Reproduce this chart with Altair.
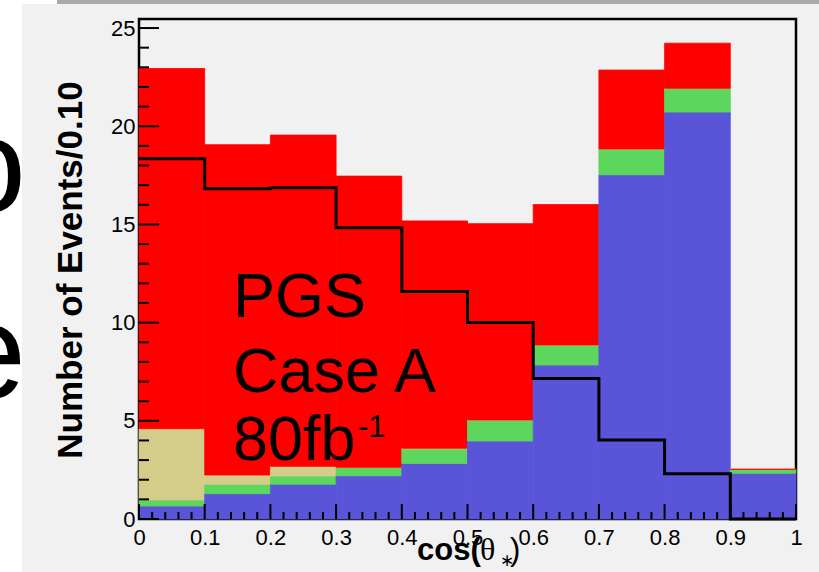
import altair as alt
import pandas as pd

# Bin edges of cos(theta*) histogram
bin_lo = [0.0, 0.1, 0.2, 0.3, 0.4, 0.5, 0.6, 0.7, 0.8, 0.9]
bin_hi = [0.1, 0.2, 0.3, 0.4, 0.5, 0.6, 0.7, 0.8, 0.9, 1.0]

# Per-bin contributions, stacked bottom to top
bkg_blue = [0.66, 1.29, 1.77, 2.20, 2.83, 3.97, 7.84, 17.53, 20.72, 2.33]
bkg_green = [0.31, 0.48, 0.42, 0.43, 0.74, 1.07, 1.02, 1.31, 1.21, 0.20]
bkg_khaki = [3.63, 0.47, 0.49, 0.00, 0.03, 0.00, 0.00, 0.00, 0.00, 0.00]
signal = [18.34, 16.82, 16.87, 14.83, 11.58, 10.00, 7.15, 4.02, 2.30, 0.00]

# Axis tick values
x_major = [0, 0.1, 0.2, 0.3, 0.4, 0.5, 0.6, 0.7, 0.8, 0.9, 1]
y_major = [0, 5, 10, 15, 20, 25]
x_minor = [round(i * 0.02, 2) for i in range(51) if i % 5]
y_minor = [i for i in range(26) if i % 5]

W, H = 657, 500
Y_MAX = 25.46
FONT = "Liberation Sans"

comp_names = ["bkg_blue", "bkg_green", "bkg_khaki", "signal"]
comp_vals = [bkg_blue, bkg_green, bkg_khaki, signal]
comp_colors = ["#5a55d8", "#5cd65c", "#d4cd8a", "#ff0000"]

rows = []
for i in range(len(bin_lo)):
    base = 0.0
    for name, vals in zip(comp_names, comp_vals):
        rows.append({"lo": bin_lo[i], "hi": bin_hi[i], "comp": name,
                     "y0": base, "y1": base + vals[i]})
        base += vals[i]
stack_df = pd.DataFrame(rows)

line_df = pd.DataFrame({"x": bin_lo + [1.0], "y": signal + [signal[-1]]})

xs = alt.Scale(domain=[0, 1], nice=False, zero=False)
ys = alt.Scale(domain=[0, Y_MAX], nice=False)

x_axis = alt.Axis(values=x_major, format="~g", ticks=False, domain=False, grid=False,
                  labelFont=FONT, labelFontSize=22, labelColor="black",
                  labelPadding=8, title=None, labelFlush=False)
y_axis = alt.Axis(values=y_major, ticks=False, domain=False, grid=False,
                  labelFont=FONT, labelFontSize=22, labelColor="black",
                  labelPadding=4, title=None, labelFlush=False)

comp_scale = alt.Scale(domain=comp_names, range=comp_colors)

bars = alt.Chart(stack_df).mark_rect(strokeWidth=0.8).encode(
    x=alt.X("lo:Q", scale=xs, axis=x_axis),
    x2="hi:Q",
    y=alt.Y("y0:Q", scale=ys, axis=y_axis),
    y2="y1:Q",
    color=alt.Color("comp:N", scale=comp_scale, legend=None),
    stroke=alt.Stroke("comp:N", scale=comp_scale, legend=None),
)

step = alt.Chart(line_df).mark_line(
    interpolate="step-after", color="black", strokeWidth=3
).encode(x=alt.X("x:Q", scale=xs, axis=x_axis), y=alt.Y("y:Q", scale=ys, axis=y_axis))

def yticks(vals, length):
    return alt.Chart(pd.DataFrame({"v": vals})).mark_rule(
        color="black", strokeWidth=2).encode(
        y=alt.Y("v:Q", scale=ys, axis=y_axis), x=alt.value(0), x2=alt.value(length))

def xticks(vals, length):
    return alt.Chart(pd.DataFrame({"v": vals})).mark_rule(
        color="black", strokeWidth=2).encode(
        x=alt.X("v:Q", scale=xs, axis=x_axis), y=alt.value(H), y2=alt.value(H - length))

one = pd.DataFrame({"k": [0]})

def box(x1, x2, y1, y2, color):
    return alt.Chart(one).mark_rect(color=color, strokeWidth=0).encode(
        x=alt.value(x1), x2=alt.value(x2), y=alt.value(y1), y2=alt.value(y2))

def label(text, x, y, size, **kw):
    opts = dict(font=FONT, fontSize=size, color="black", align="left",
                baseline="alphabetic")
    opts.update(kw)
    return alt.Chart(one).mark_text(text=text, **opts).encode(
        x=alt.value(x), y=alt.value(y))

# Slide surroundings: white strip, top bar, cut-off slide lettering
white_strip = box(-139, -117, -19, 553, "white")
white_top = box(-139, -82, -19, -15, "white")
gray_bar = box(-82, 680, -19, -15, "#aaaaaa")
slide_o = label("o", -113, 193, 135, align="right")
slide_e = label("e", -113, 379, 135, align="right")

y_title = label("Number of Events/0.10", -68, 251, 35, fontWeight="bold",
                angle=270, align="center", baseline="middle")

x_title = (
    label("cos(", 278, 541, 31, fontWeight="bold")
    + label("θ", 341, 541, 32, font="Liberation Serif")
    + label("∗", 361, 547, 17)
    + label(")", 371, 541, 31)
)

note = (
    label("PGS", 94, 298, 63)
    + label("Case A", 94, 373, 63)
    + label("80fb", 94, 441, 63)
    + label("-1", 219, 418, 31)
)

chart = alt.layer(
    bars, step,
    white_strip, white_top, gray_bar, slide_o, slide_e,
    yticks(y_major, 20), yticks(y_minor, 10),
    xticks(x_major, 15), xticks(x_minor, 7),
    note, y_title, x_title,
).properties(
    width=W, height=H,
    autosize=alt.AutoSizeParams(type="none"),
    padding={"left": 139, "top": 19, "right": 23, "bottom": 53},
).configure(background="#f1f1f1").configure_view(
    stroke="black", strokeWidth=2.5, fill="#f1f1f1"
)

chart.save("out.html", embed_options={"renderer": "svg", "actions": False})
